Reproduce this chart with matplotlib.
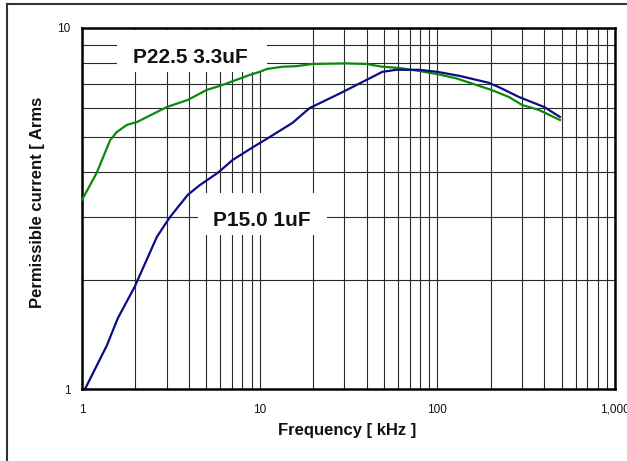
import matplotlib
matplotlib.use("Agg")
import matplotlib.pyplot as plt
from matplotlib.patches import Rectangle
from matplotlib.lines import Line2D
from matplotlib.ticker import FixedLocator, FixedFormatter, NullFormatter

# --- dati ---
green_freq = [1.0, 1.21, 1.44, 1.57, 1.79, 2.04, 3.0, 3.94, 5.04, 5.96, 8.77, 10, 11, 13.4,
              16.1, 19.8, 30.8, 39.9, 49, 61.2, 79.2, 100, 127, 201, 253, 300, 373, 490]
green_curr = [3.34, 3.97, 4.89, 5.15, 5.39, 5.49, 6.04, 6.32, 6.74, 6.91, 7.41, 7.56, 7.70, 7.81,
              7.84, 7.95, 7.98, 7.95, 7.81, 7.75, 7.60, 7.45, 7.26, 6.74, 6.44, 6.12, 5.93, 5.56]

blue_freq = [1.04, 1.38, 1.59, 1.98, 2.64, 3.12, 3.94, 4.6, 5.81, 7.05, 9.0, 11.4, 15.3, 19.1,
             25.7, 29.2, 39.9, 49, 58.8, 79.2, 100, 133, 195, 223, 288, 400, 490]
blue_curr = [1.0, 1.32, 1.57, 1.92, 2.64, 2.99, 3.45, 3.67, 3.97, 4.31, 4.65, 4.99, 5.46, 6.0,
             6.44, 6.64, 7.18, 7.56, 7.66, 7.66, 7.56, 7.37, 7.05, 6.85, 6.44, 6.04, 5.67]

x_ticks = [1, 10, 100, 1000]
x_tick_labels = ["1", "10", "100", "1,000"]
y_ticks = [1, 10]
y_tick_labels = ["1", "10"]

label_green = "P22.5 3.3uF"
label_blue = "P15.0 1uF"

plt.rcParams['font.family'] = ['Liberation Sans', 'DejaVu Sans']

W, H = 627, 461
fig = plt.figure(figsize=(W / 100, H / 100), dpi=100)
ax = fig.add_axes([82 / W, 1 - 389 / H, 533 / W, 361 / H])

ax.set_xscale('log')
ax.set_yscale('log')
ax.set_xlim(1, 1000)
ax.set_ylim(1, 10)

# griglia su tutte le suddivisioni
minor_x = [m * 10 ** d for d in range(3) for m in range(2, 10)]
minor_y = list(range(2, 10))
ax.xaxis.set_major_locator(FixedLocator(x_ticks))
ax.xaxis.set_major_formatter(FixedFormatter(x_tick_labels))
ax.xaxis.set_minor_locator(FixedLocator(minor_x))
ax.xaxis.set_minor_formatter(NullFormatter())
ax.yaxis.set_major_locator(FixedLocator(y_ticks))
ax.yaxis.set_major_formatter(FixedFormatter(y_tick_labels))
ax.yaxis.set_minor_locator(FixedLocator(minor_y))
ax.yaxis.set_minor_formatter(NullFormatter())
ax.grid(True, which='both', color='#2a2a2a', lw=0.8, zorder=0)
ax.set_axisbelow(True)

ax.tick_params(which='both', length=0)
ax.tick_params(axis='x', pad=10.5, labelsize=8.5, colors='#111111')
ax.tick_params(axis='y', pad=8.5, labelsize=8.5, colors='#111111')

for s in ax.spines.values():
    s.set_linewidth(1.8)
    s.set_color('black')

# riquadri bianchi delle etichette
ax.add_patch(Rectangle((0.0657, 0.878), 0.281, 0.1165, transform=ax.transAxes,
                       facecolor='white', edgecolor='none', zorder=1.5))
ax.add_patch(Rectangle((0.2176, 0.4266), 0.242, 0.1164, transform=ax.transAxes,
                       facecolor='white', edgecolor='none', zorder=1.5))

ax.plot(green_freq, green_curr, color='#0a8a0a', lw=1.6, zorder=3)
ax.plot(blue_freq, blue_curr, color='#0c0c85', lw=1.6, zorder=3)

ax.text(0.2026, 0.917, label_green, transform=ax.transAxes, ha='center', va='center',
        fontsize=15, fontweight='bold', color='#111111', zorder=4)
ax.text(0.3377, 0.468, label_blue, transform=ax.transAxes, ha='center', va='center',
        fontsize=15, fontweight='bold', color='#111111', zorder=4)

fig.text(347.5 / W, 1 - 430 / H, "Frequency [ kHz ]", ha='center', va='center',
         fontsize=12, fontweight='bold', color='#111111')
fig.text(38 / W, 1 - 202.5 / H, "Permissible current [ Arms", ha='center', va='center',
         rotation=90, fontsize=12, fontweight='bold', color='#111111')

# cornice esterna
fig.add_artist(Line2D([7 / W, 1], [1 - 4 / H, 1 - 4 / H], transform=fig.transFigure,
                      color='#333333', lw=1.5))
fig.add_artist(Line2D([7 / W, 7 / W], [0, 1 - 4 / H], transform=fig.transFigure,
                      color='#333333', lw=1.5))

fig.savefig("out.png", dpi=100)
